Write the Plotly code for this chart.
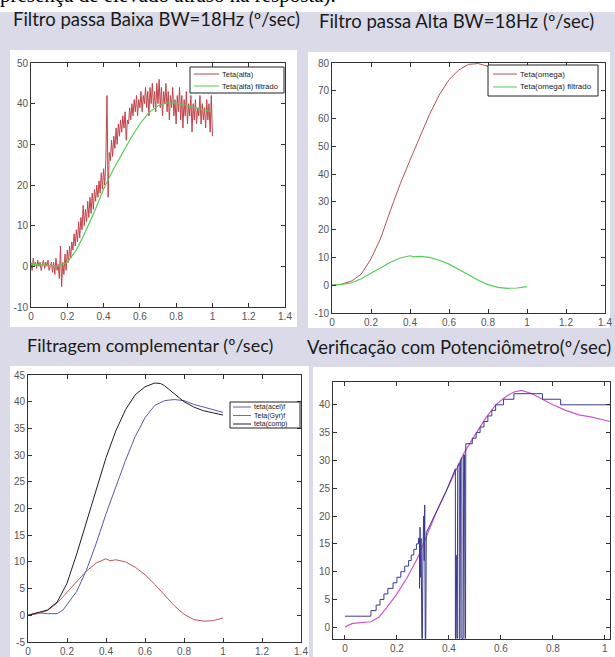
import plotly.graph_objects as go

W, H = 615, 657
def px(x): return x / W
def py(y): return 1 - y / H

# ---------------- data ----------------
# Panel 1: raw accelerometer angle (noisy) sampled every 1/160 s
alfa_raw = [1, -1, 2, 0, 1, -0.5, 1.5, 0, 1, -1,
            0.5, 1.5, -0.5, 1, 0, 1.5, -1, 0.5, 1, -1.5,
            1, -2, 2, -1, 0.5, -3, 5, -5, 1, -2,
            3, -1, 4, 1, 5, 2, 6, 4, 8, 5,
            9, 6, 11, 7, 12, 9, 15, 10, 14, 11,
            16, 12, 17, 13, 18, 14, 19, 16, 20, 17,
            21, 18, 23, 19, 24, 20, 26, 42, 17, 28,
            26, 31, 27, 32, 29, 34, 30, 35, 32, 36,
            33, 37, 34, 38, 31, 36, 35, 39, 36, 40,
            37, 41, 38, 42, 37, 41, 39, 43, 38, 42,
            40, 44, 39, 43, 37, 44, 40, 45, 39, 43,
            38, 45, 40, 46, 39, 44, 37, 43, 40, 45,
            38, 43, 36, 42, 39, 44, 37, 41, 35, 42,
            38, 44, 36, 42, 34, 41, 37, 43, 35, 40,
            37, 42, 33, 40, 36, 41, 35, 39, 37, 42,
            35, 40, 36, 39, 34, 41, 36, 40, 33, 42,
            32]
alfa_dt = 1 / 160
t_raw = [i * alfa_dt for i in range(len(alfa_raw))]

t_filt = [0, 0.05, 0.1, 0.15, 0.2, 0.25, 0.3, 0.35, 0.4, 0.45, 0.5,
          0.55, 0.6, 0.65, 0.7, 0.75, 0.8, 0.85, 0.9, 0.95, 1.0]
alfa_filt = [0.5, 0.4, 0.2, 0.1, 1.0, 4.0, 8.5, 13.5, 19.0, 23.5, 27.5,
             31.5, 35.0, 37.8, 39.5, 40.2, 40.2, 39.6, 39.0, 38.5, 38.0]

# Panel 2
t_omega = [0, 0.05, 0.1, 0.15, 0.2, 0.25, 0.3, 0.35, 0.4, 0.45, 0.5,
           0.55, 0.6, 0.65, 0.7, 0.75, 0.8, 0.85, 0.9, 0.95, 1.0]
omega = [0, 0.4, 1.5, 4.0, 9.5, 17.0, 27.0, 36.5, 45.0, 53.0, 61.5,
         68.5, 74.0, 77.5, 79.5, 79.8, 78.8, 77.5, 76.5, 75.8, 75.2]
t_gyr = [0, 0.05, 0.1, 0.15, 0.2, 0.25, 0.3, 0.35, 0.4, 0.42, 0.45, 0.5,
         0.55, 0.6, 0.65, 0.7, 0.75, 0.8, 0.85, 0.9, 0.95, 1.0]
gyr_filt = [0, 0.3, 0.9, 2.3, 4.3, 6.4, 8.3, 9.8, 10.6, 10.2, 10.4, 10.0,
            9.0, 7.6, 5.8, 3.8, 1.8, 0.2, -0.8, -1.1, -1.0, -0.5]

# Panel 3
t_acel = [0, 0.05, 0.1, 0.15, 0.18, 0.2, 0.25, 0.3, 0.35, 0.4, 0.45, 0.5,
          0.55, 0.6, 0.65, 0.7, 0.75, 0.8, 0.85, 0.9, 0.95, 1.0]
acel_f = [0, 0.5, 0.3, 0.3, 1.0, 2.0, 4.5, 8.5, 13.5, 19.0, 24.0, 29.0,
          33.5, 37.0, 39.3, 40.2, 40.4, 40.2, 39.5, 39.0, 38.5, 38.0]
t_comp = [0, 0.05, 0.1, 0.15, 0.2, 0.25, 0.3, 0.35, 0.4, 0.45, 0.5,
          0.55, 0.6, 0.65, 0.68, 0.7, 0.75, 0.8, 0.85, 0.9, 0.95, 1.0]
comp = [0, 0.5, 1.0, 2.5, 6.0, 11.5, 17.5, 23.5, 29.5, 34.5, 38.5,
        41.3, 42.8, 43.5, 43.4, 43.0, 41.5, 40.0, 39.0, 38.3, 37.9, 37.5]

# Panel 4
t_est = [0, 0.01, 0.03, 0.06, 0.1, 0.13, 0.16, 0.2, 0.24, 0.28, 0.3, 0.32,
         0.35, 0.39, 0.43, 0.46, 0.5, 0.54, 0.58, 0.62, 0.65, 0.68, 0.72,
         0.76, 0.8, 0.85, 0.9, 0.95, 1.0, 1.02]
est = [0, 0.3, 0.7, 0.8, 1.0, 1.8, 3.5, 6.0, 9.0, 12.5, 14.8, 17.0,
       20.5, 24.5, 28.5, 31.5, 34.5, 37.5, 40.0, 41.5, 42.3, 42.6, 42.0,
       41.0, 40.0, 39.0, 38.2, 37.8, 37.3, 37.0]
pot_a_x = [0, 0.100, 0.120, 0.135, 0.150, 0.165, 0.185, 0.200, 0.215,
           0.230, 0.245, 0.255, 0.265, 0.275, 0.283]
pot_a_y = [2, 3, 4, 5, 6, 7, 8, 9, 10, 11, 12, 13, 14, 15, 16]
pot_a_end = 0.287
pot_b_x = [0.287, 0.287, 0.289, 0.291, 0.293, 0.296, 0.298, 0.300, 0.303,
           0.305, 0.307, 0.309, 0.311, 0.313, 0.35, 0.39, 0.425, 0.425,
           0.427, 0.428, 0.430, 0.432, 0.434, 0.440, 0.440, 0.443, 0.445,
           0.450, 0.450, 0.455, 0.457, 0.460, 0.462, 0.464, 0.465]
pot_b_y = [16, 7, 18, 9, 16, -2, -2, 13, 20, 12, 22, -2, -2, 17, 20.5,
           24.5, 28.5, -2, -2, 13, -2, -2, 29, 29.5, -2, -2, 30, 30.5,
           -2, -2, 31, 31, -2, -2, 33]
pot_c_x = [0.465, 0.49, 0.505, 0.52, 0.535, 0.55, 0.565, 0.58, 0.61,
           0.65, 0.76, 0.83]
pot_c_y = [33, 34, 35, 36, 37, 38, 39, 40, 41, 42, 41, 40]
pot_c_end = 1.02

# legend labels
leg1_names = ["Teta(alfa)", "Teta(alfa) filtrado"]
leg2_names = ["Teta(omega)", "Teta(omega) filtrado"]
leg3_names = ["teta(acel)f", "Teta(Gyr)f", "teta(comp)"]

# cut-off line of slide text above the charts
top_text = "presença de elevado atraso na resposta)."


def hv(xs, ys, x_end):
    ox, oy = [], []
    for i in range(len(xs)):
        x1 = xs[i + 1] if i + 1 < len(xs) else x_end
        ox += [xs[i], x1]
        oy += [ys[i], ys[i]]
    return ox, oy


ax, ay = hv(pot_a_x, pot_a_y, pot_a_end)
cx, cy = hv(pot_c_x, pot_c_y, pot_c_end)
pot_x = ax + pot_b_x + cx
pot_y = ay + pot_b_y + cy

# ---------------- figure ----------------
LAV = "#dadae8"
C_RED1, C_GRN = "#c0444a", "#55cc55"
C_RED2 = "#b25555"
C_BLU3, C_RED3, C_BLK3 = "#5a5aaa", "#b85a5a", "#1e1e30"
fig = go.Figure()

def tr(x, y, color, name, xa, ya, width=1.0):
    fig.add_trace(go.Scatter(
        x=x, y=y, mode="lines", name=name,
        line=dict(color=color, width=width),
        xaxis=xa, yaxis=ya, showlegend=False))

tr(t_raw, alfa_raw, C_RED1, leg1_names[0], "x", "y")
tr(t_filt, alfa_filt, C_GRN, leg1_names[1], "x", "y", 1.2)
tr(t_omega, omega, C_RED2, leg2_names[0], "x2", "y2")
tr(t_gyr, gyr_filt, C_GRN, leg2_names[1], "x2", "y2", 1.2)
tr(t_acel, acel_f, C_BLU3, leg3_names[0], "x3", "y3")
tr(t_gyr, gyr_filt, C_RED3, leg3_names[1], "x3", "y3")
tr(t_comp, comp, C_BLK3, leg3_names[2], "x3", "y3")
tr(t_est, est, "#cc55d0", "estimado", "x4", "y4", 1.2)
tr(pot_x, pot_y, "#3a3a8e", "potenciômetro", "x4", "y4")

# strip of slide text at the very top, clipped by its own (hidden) axes
fig.add_trace(go.Scatter(
    x=[0], y=[1.25], mode="text", text=[top_text],
    textposition="middle right", cliponaxis=True, hoverinfo="skip",
    textfont=dict(family="Liberation Serif", size=21, color="black"),
    xaxis="x5", yaxis="y5", showlegend=False))

tickfont = dict(family="Liberation Sans", size=10, color="#555")

def xaxis(dom, rng, anchor):
    return dict(domain=dom, range=rng, anchor=anchor, dtick=0.2, tick0=0,
                showline=True, linecolor="#333", linewidth=1, mirror="ticks",
                ticks="inside", ticklen=4, tickcolor="#333",
                showgrid=False, zeroline=False, tickfont=tickfont)

def yaxis(dom, rng, anchor, vals):
    return dict(domain=dom, range=rng, anchor=anchor,
                tickvals=vals, ticktext=[str(v) for v in vals],
                showline=True, linecolor="#333", linewidth=1, mirror="ticks",
                ticks="inside", ticklen=4, tickcolor="#333",
                showgrid=False, zeroline=False, tickfont=tickfont)

hidden = dict(visible=False, showgrid=False, zeroline=False, fixedrange=True)

def rect(x0, y0, x1, y1, fill, layer="below", line=None):
    return dict(type="rect", xref="paper", yref="paper",
                x0=px(x0), x1=px(x1), y0=py(y1), y1=py(y0),
                fillcolor=fill, line=line or dict(width=0), layer=layer)

shapes = [
    rect(0, 0, 615, 10, "white"),
    rect(10, 50, 297, 327, "white"),
    rect(308, 52, 610, 328, "white"),
    rect(10, 366, 309, 657, "white"),
    rect(313, 367, 615, 657, "white"),
]

tfont = dict(family="Lato", color="#1a1a1a")
annotations = [
    dict(text="Filtro passa Baixa BW=18Hz (º/sec)", x=px(156), y=py(19),
         xref="paper", yref="paper", xanchor="center", yanchor="middle",
         showarrow=False, font=dict(size=18.5, **tfont)),
    dict(text="Filtro passa Alta BW=18Hz (º/sec)", x=px(456), y=py(21),
         xref="paper", yref="paper", xanchor="center", yanchor="middle",
         showarrow=False, font=dict(size=18.5, **tfont)),
    dict(text="Filtragem complementar (º/sec)", x=px(150), y=py(345),
         xref="paper", yref="paper", xanchor="center", yanchor="middle",
         showarrow=False, font=dict(size=18, **tfont)),
    dict(text="Verificação com Potenciômetro(º/sec)", x=px(612), y=py(347),
         xref="paper", yref="paper", xanchor="right", yanchor="middle",
         showarrow=False, borderpad=0, font=dict(size=18.5, **tfont)),
]

# hand-drawn MATLAB-style legend boxes
def add_legend(box, names, colors, ys, lx0, lx1, fsize):
    x0, y0, x1, y1 = box
    shapes.append(rect(x0, y0, x1, y1, "white", "above",
                       dict(color="#222", width=1)))
    for nm, col, yy in zip(names, colors, ys):
        shapes.append(dict(type="line", xref="paper", yref="paper",
                           x0=px(lx0), x1=px(lx1), y0=py(yy), y1=py(yy),
                           line=dict(color=col, width=1), layer="above"))
        annotations.append(dict(text=nm, x=px(lx1 + 2), y=py(yy),
                                xref="paper", yref="paper", xanchor="left",
                                yanchor="middle", showarrow=False, borderpad=0,
                                font=dict(family="Liberation Sans", size=fsize,
                                          color="#222")))

add_legend((190, 67, 284, 93), leg1_names, [C_RED1, C_GRN], [74, 86],
           194, 219, 7.5)
add_legend((488, 65, 598, 96), leg2_names, [C_RED2, C_GRN], [74, 87],
           493, 517, 8)
add_legend((230, 402, 300, 428), leg3_names, [C_BLU3, C_RED3, C_BLK3],
           [407, 415.5, 424], 233, 251, 7)

fig.update_layout(
    width=W, height=H,
    margin=dict(l=0, r=0, t=0, b=0, pad=0, autoexpand=False),
    paper_bgcolor=LAV, plot_bgcolor="white",
    xaxis=xaxis([px(31), px(285)], [0, 1.4], "y"),
    yaxis=yaxis([py(307), py(63)], [-10, 50], "x", [-10, 0, 10, 20, 30, 40, 50]),
    xaxis2=xaxis([px(332), px(605)], [0, 1.4], "y2"),
    yaxis2=yaxis([py(313), py(63)], [-10, 80], "x2",
                 [-10, 0, 10, 20, 30, 40, 50, 60, 70, 80]),
    xaxis3=xaxis([px(28), px(301)], [0, 1.4], "y3"),
    yaxis3=yaxis([py(642), py(375)], [-5, 45], "x3",
                 [-5, 0, 5, 10, 15, 20, 25, 30, 35, 40, 45]),
    xaxis4=xaxis([px(333), px(610)], [-0.046, 1.02], "y4"),
    yaxis4=yaxis([py(639), py(382)], [-2.1, 44.1], "x4",
                 [0, 5, 10, 15, 20, 25, 30, 35, 40]),
    xaxis5=dict(domain=[0, 1], range=[0, 1], anchor="y5", **hidden),
    yaxis5=dict(domain=[py(12), 1], range=[0, 1], anchor="x5", **hidden),
    shapes=shapes, annotations=annotations, showlegend=False,
)

fig.write_html("out.html", config={"displayModeBar": False},
               post_script="document.body.style.margin='0';"
                           "document.body.style.overflow='hidden';")
